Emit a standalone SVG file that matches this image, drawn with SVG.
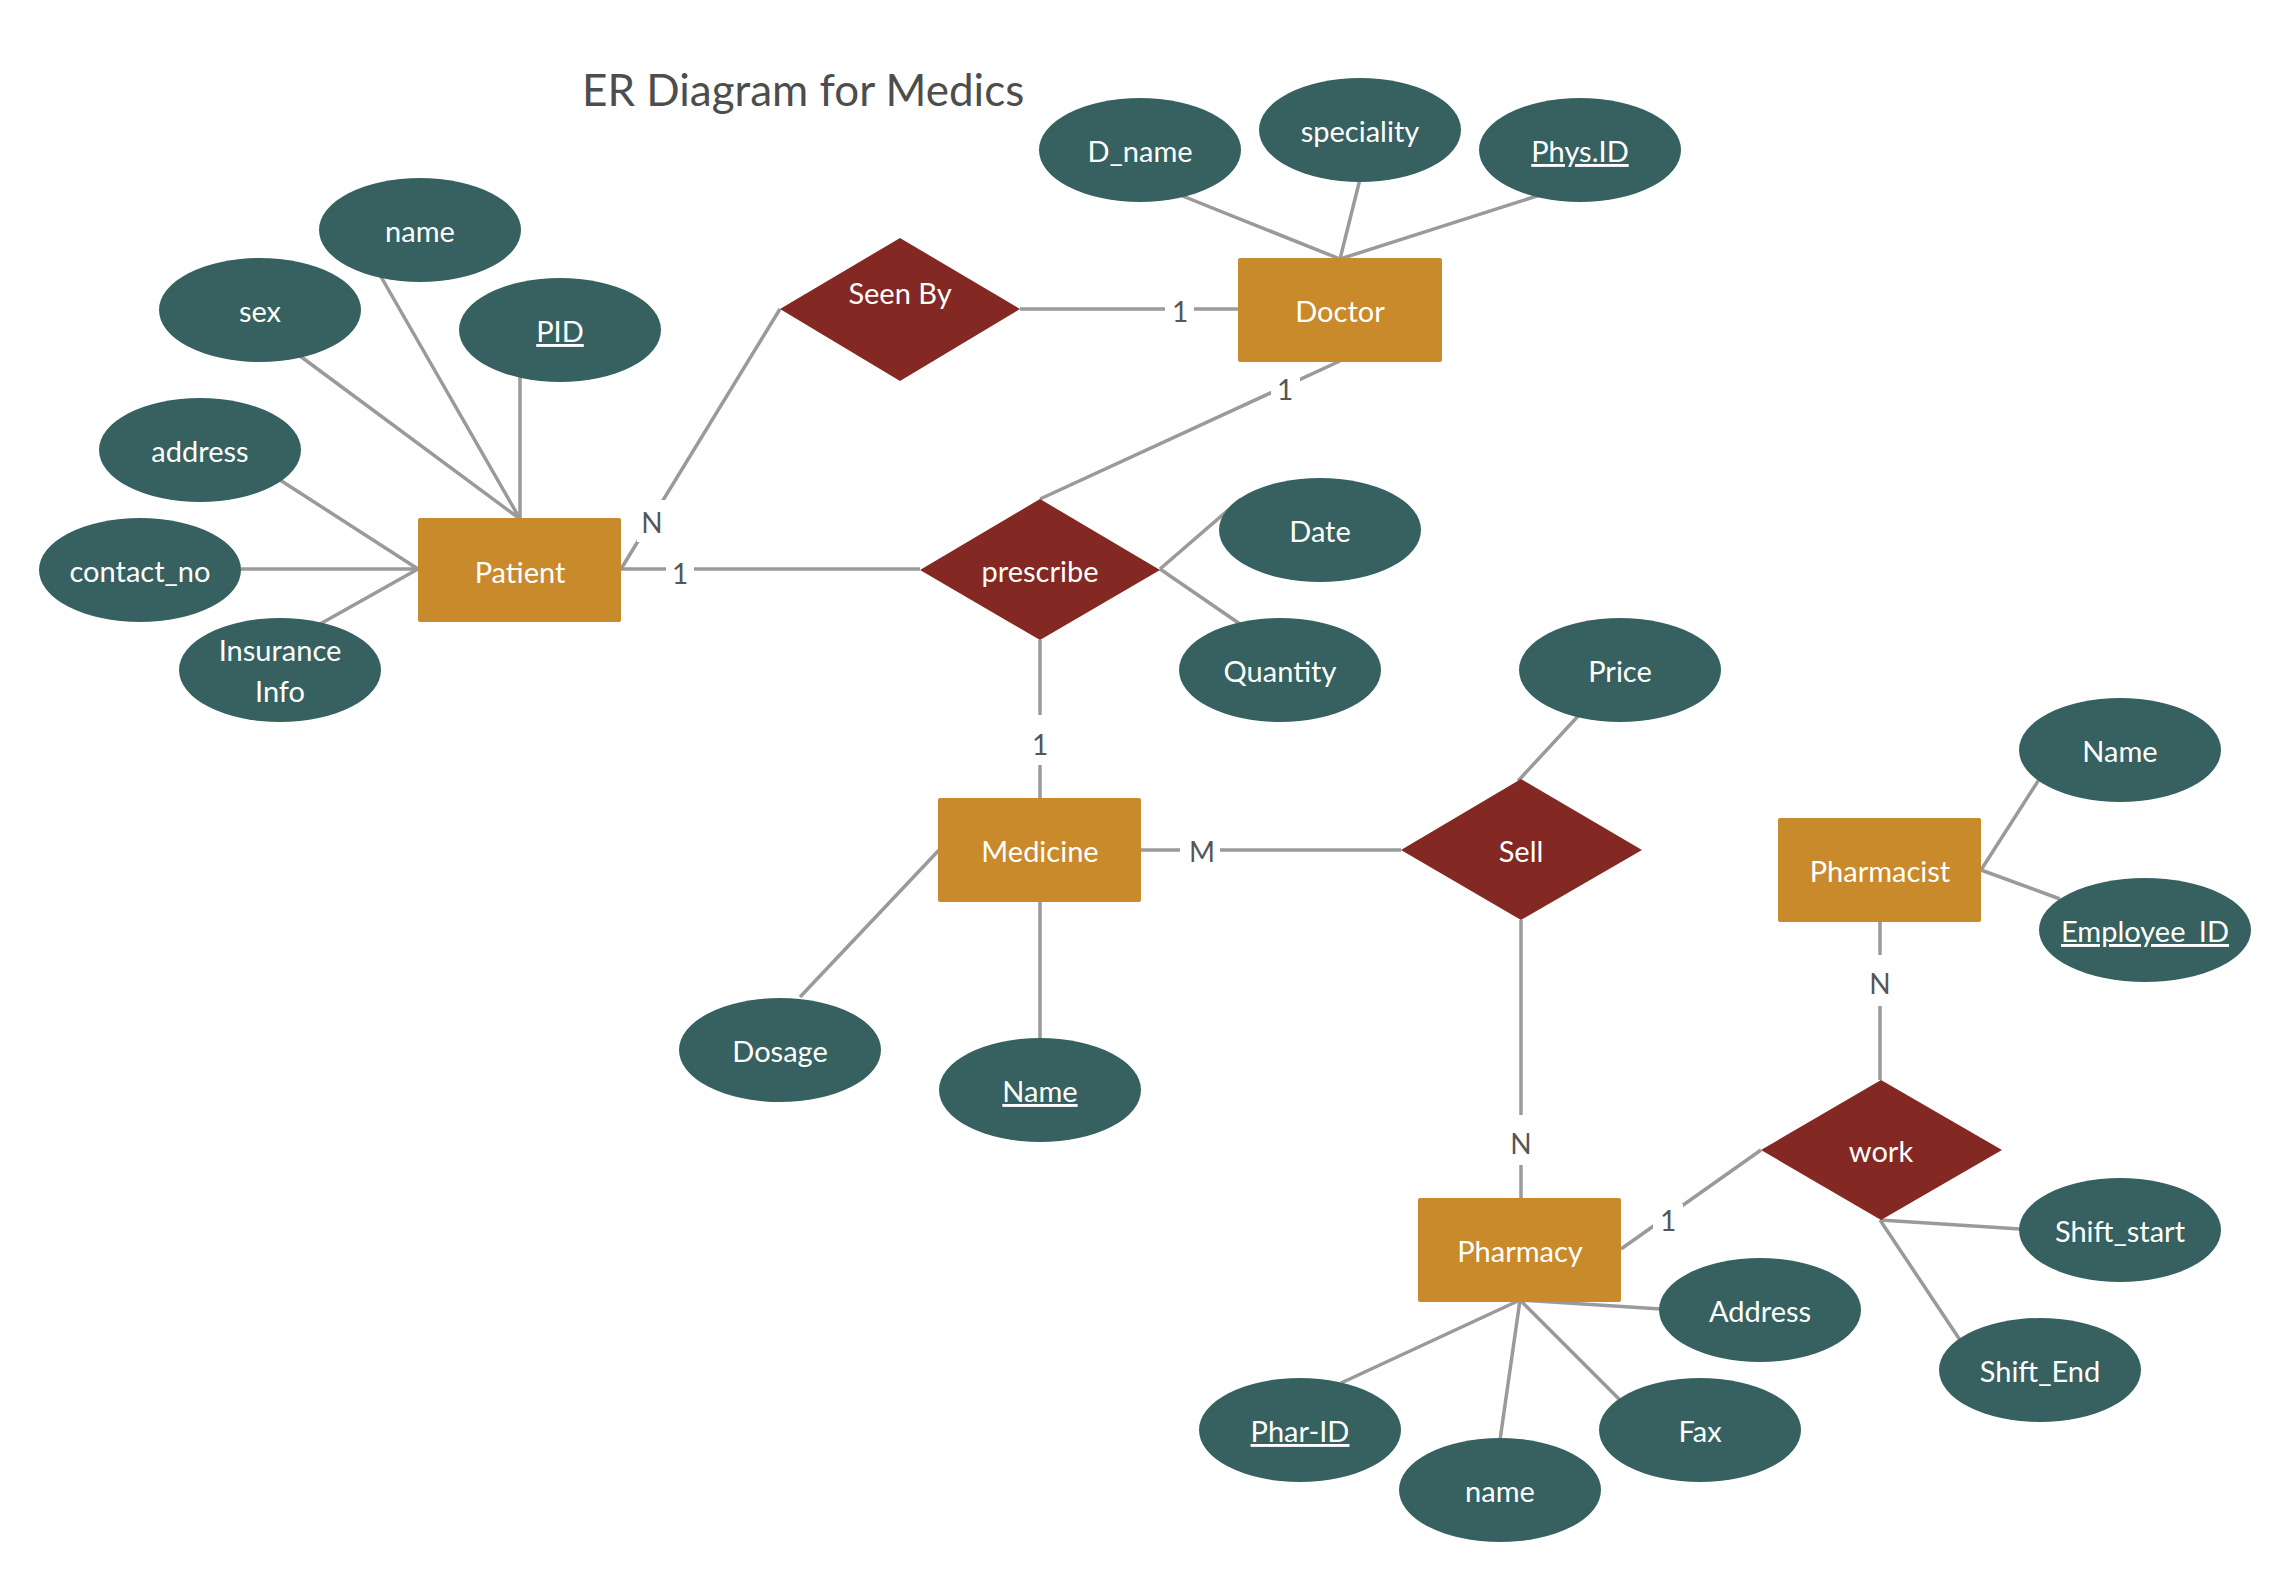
<svg xmlns="http://www.w3.org/2000/svg" width="2290" height="1580" viewBox="0 0 2290 1580">
<style>
.ent{fill:#C98A2B}
.rel{fill:#832822}
.att{fill:#366160}
.t{font-family:Lato,"Liberation Sans",sans-serif;font-size:29px;fill:#FFFFFF;text-anchor:middle}
.u{text-decoration:underline}
.ln{stroke:#9A9A9A;stroke-width:3.5;fill:none}
.lb{font-family:Lato,"Liberation Sans",sans-serif;font-size:28px;fill:#555555;text-anchor:middle}
.title{font-family:Lato,"Liberation Sans",sans-serif;font-size:44px;fill:#4D4D4D}
</style>
<rect width="2290" height="1580" fill="#FFFFFF"/>
<text class="title" x="582" y="106">ER Diagram for Medics</text>
<g id="connectors">
<line class="ln" x1="300" y1="356" x2="520" y2="519"/>
<line class="ln" x1="380" y1="275" x2="520" y2="519"/>
<line class="ln" x1="520" y1="374" x2="520" y2="519"/>
<line class="ln" x1="280" y1="480" x2="418" y2="569"/>
<line class="ln" x1="241" y1="569" x2="418" y2="569"/>
<line class="ln" x1="320" y1="624" x2="418" y2="569"/>
<line class="ln" x1="621" y1="569" x2="780" y2="309"/>
<line class="ln" x1="621" y1="569" x2="920" y2="569"/>
<line class="ln" x1="1020" y1="309" x2="1238" y2="309"/>
<line class="ln" x1="1180" y1="195" x2="1340" y2="259"/>
<line class="ln" x1="1360" y1="179" x2="1340" y2="259"/>
<line class="ln" x1="1540" y1="195" x2="1340" y2="259"/>
<line class="ln" x1="1340" y1="361" x2="1040" y2="499"/>
<line class="ln" x1="1160" y1="569" x2="1241" y2="499"/>
<line class="ln" x1="1160" y1="569" x2="1240" y2="624"/>
<line class="ln" x1="1040" y1="640" x2="1040" y2="798"/>
<line class="ln" x1="940" y1="849" x2="800" y2="997"/>
<line class="ln" x1="1040" y1="901" x2="1040" y2="1038"/>
<line class="ln" x1="1141" y1="850" x2="1401" y2="850"/>
<line class="ln" x1="1580" y1="714" x2="1518" y2="781"/>
<line class="ln" x1="1521" y1="920" x2="1521" y2="1198"/>
<line class="ln" x1="1981" y1="870" x2="2040" y2="778"/>
<line class="ln" x1="1981" y1="870" x2="2060" y2="899"/>
<line class="ln" x1="1880" y1="922" x2="1880" y2="1080"/>
<line class="ln" x1="1621" y1="1249" x2="1761" y2="1150"/>
<line class="ln" x1="1880" y1="1220" x2="2020" y2="1229"/>
<line class="ln" x1="1880" y1="1220" x2="1960" y2="1340"/>
<line class="ln" x1="1520" y1="1300" x2="1661" y2="1309"/>
<line class="ln" x1="1520" y1="1300" x2="1341" y2="1383"/>
<line class="ln" x1="1520" y1="1300" x2="1500" y2="1440"/>
<line class="ln" x1="1520" y1="1300" x2="1620" y2="1400"/>
<g id="labels">
<rect x="637" y="500" width="30" height="42" fill="#FFFFFF"/>
<text class="lb" x="652" y="533">N</text>
<rect x="666" y="555" width="28" height="30" fill="#FFFFFF"/>
<text class="lb" x="680" y="584">1</text>
<rect x="1165" y="296" width="29" height="28" fill="#FFFFFF"/>
<text class="lb" x="1180" y="322">1</text>
<rect x="1271" y="376" width="29" height="28" fill="#FFFFFF"/>
<text class="lb" x="1285" y="400">1</text>
<rect x="1028" y="715" width="24" height="50" fill="#FFFFFF"/>
<text class="lb" x="1040" y="755">1</text>
<rect x="1180" y="838" width="40" height="26" fill="#FFFFFF"/>
<text class="lb" x="1202" y="862">M</text>
<rect x="1508" y="1115" width="26" height="50" fill="#FFFFFF"/>
<text class="lb" x="1521" y="1154">N</text>
<rect x="1867" y="955" width="26" height="51" fill="#FFFFFF"/>
<text class="lb" x="1880" y="994">N</text>
<rect x="1653" y="1204" width="30" height="26" fill="#FFFFFF"/>
<text class="lb" x="1668" y="1231">1</text>
</g>
</g>
<g id="patient"><rect class="ent" x="418" y="518" width="203" height="104" rx="2"/><text class="t" x="520" y="583">Patient</text></g>
<g id="doctor"><rect class="ent" x="1238" y="258" width="204" height="104" rx="2"/><text class="t" x="1340" y="322">Doctor</text></g>
<g id="medicine"><rect class="ent" x="938" y="798" width="203" height="104" rx="2"/><text class="t" x="1040" y="862">Medicine</text></g>
<g id="pharmacist"><rect class="ent" x="1778" y="818" width="203" height="104" rx="2"/><text class="t" x="1880" y="882">Pharmacist</text></g>
<g id="pharmacy"><rect class="ent" x="1418" y="1198" width="203" height="104" rx="2"/><text class="t" x="1520" y="1262">Pharmacy</text></g>
<g id="seenby"><polygon class="rel" points="900,238 1020,309 900,381 780,309"/><text class="t" x="900" y="304">Seen By</text></g>
<g id="prescribe"><polygon class="rel" points="1040,499 1160,570 1040,640 920,570"/><text class="t" x="1040" y="582">prescribe</text></g>
<g id="sell"><polygon class="rel" points="1521,779 1642,850 1521,920 1401,850"/><text class="t" x="1521" y="862">Sell</text></g>
<g id="work"><polygon class="rel" points="1881,1080 2002,1150 1881,1220 1761,1150"/><text class="t" x="1881" y="1162">work</text></g>
<g id="attr-name"><ellipse class="att" cx="420" cy="230" rx="101" ry="52"/><text class="t" x="420" y="242">name</text></g>
<g id="attr-sex"><ellipse class="att" cx="260" cy="310" rx="101" ry="52"/><text class="t" x="260" y="322">sex</text></g>
<g id="attr-pid"><ellipse class="att" cx="560" cy="330" rx="101" ry="52"/><text class="t u" x="560" y="342">PID</text></g>
<g id="attr-address"><ellipse class="att" cx="200" cy="450" rx="101" ry="52"/><text class="t" x="200" y="462">address</text></g>
<g id="attr-contact"><ellipse class="att" cx="140" cy="570" rx="101" ry="52"/><text class="t" x="140" y="582">contact_no</text></g>
<g id="attr-insurance"><ellipse class="att" cx="280" cy="670" rx="101" ry="52"/><text class="t" x="280" y="661">Insurance</text><text class="t" x="280" y="702">Info</text></g>
<g id="attr-dname"><ellipse class="att" cx="1140" cy="150" rx="101" ry="52"/><text class="t" x="1140" y="162">D_name</text></g>
<g id="attr-speciality"><ellipse class="att" cx="1360" cy="130" rx="101" ry="52"/><text class="t" x="1360" y="142">speciality</text></g>
<g id="attr-physid"><ellipse class="att" cx="1580" cy="150" rx="101" ry="52"/><text class="t u" x="1580" y="162">Phys.ID</text></g>
<g id="attr-date"><ellipse class="att" cx="1320" cy="530" rx="101" ry="52"/><text class="t" x="1320" y="542">Date</text></g>
<g id="attr-quantity"><ellipse class="att" cx="1280" cy="670" rx="101" ry="52"/><text class="t" x="1280" y="682">Quantity</text></g>
<g id="attr-price"><ellipse class="att" cx="1620" cy="670" rx="101" ry="52"/><text class="t" x="1620" y="682">Price</text></g>
<g id="attr-dosage"><ellipse class="att" cx="780" cy="1050" rx="101" ry="52"/><text class="t" x="780" y="1062">Dosage</text></g>
<g id="attr-medname"><ellipse class="att" cx="1040" cy="1090" rx="101" ry="52"/><text class="t u" x="1040" y="1102">Name</text></g>
<g id="attr-phname"><ellipse class="att" cx="2120" cy="750" rx="101" ry="52"/><text class="t" x="2120" y="762">Name</text></g>
<g id="attr-empid"><ellipse class="att" cx="2145" cy="930" rx="106" ry="52"/><text class="t u" x="2145" y="942">Employee_ID</text></g>
<g id="attr-shiftstart"><ellipse class="att" cx="2120" cy="1230" rx="101" ry="52"/><text class="t" x="2120" y="1242">Shift_start</text></g>
<g id="attr-shiftend"><ellipse class="att" cx="2040" cy="1370" rx="101" ry="52"/><text class="t" x="2040" y="1382">Shift_End</text></g>
<g id="attr-address2"><ellipse class="att" cx="1760" cy="1310" rx="101" ry="52"/><text class="t" x="1760" y="1322">Address</text></g>
<g id="attr-pharid"><ellipse class="att" cx="1300" cy="1430" rx="101" ry="52"/><text class="t u" x="1300" y="1442">Phar-ID</text></g>
<g id="attr-pname"><ellipse class="att" cx="1500" cy="1490" rx="101" ry="52"/><text class="t" x="1500" y="1502">name</text></g>
<g id="attr-fax"><ellipse class="att" cx="1700" cy="1430" rx="101" ry="52"/><text class="t" x="1700" y="1442">Fax</text></g>
</svg>
